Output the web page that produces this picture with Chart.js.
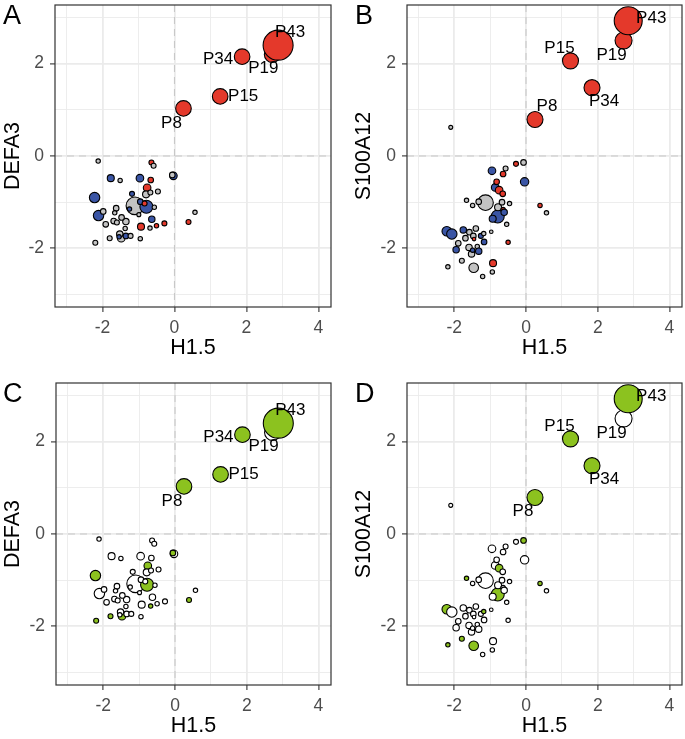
<!DOCTYPE html>
<html>
<head>
<meta charset="utf-8">
<script src="https://cdn.jsdelivr.net/npm/chart.js@4.4.0/dist/chart.umd.min.js"></script>
<style>
  body { margin: 0; background: #fff; }
  #wrap { position: relative; width: 685px; height: 739px; }
  canvas { position: absolute; }
</style>
</head>
<body>
<div id="wrap">
  <canvas id="panelA" width="340" height="361" style="left:0;top:0"></canvas>
  <canvas id="panelB" width="345" height="361" style="left:340px;top:0"></canvas>
  <canvas id="panelC" width="340" height="361" style="left:0;top:378px"></canvas>
  <canvas id="panelD" width="345" height="361" style="left:340px;top:378px"></canvas>
</div>
<script>
/** Data **/

// axis ticks and ranges (same for all four panels)
const xTicks = [-3, -2, -1, 0, 1, 2, 3, 4];
const yTicks = [-3, -2, -1, 0, 1, 2, 3];
const xRange = [-3.32, 4.35];
const yRange = [-3.27, 3.27];

// panels A and C : H1.5 vs DEFA3
const h15A = [-1.10, -0.78, -2.22, -2.11, -0.96, -0.03, -0.06, -0.76, -1.77, -0.79,
              -1.48, -1.52, -0.93, -1.35, -0.63, -0.64, -0.58, -1.51, -0.66, -1.18,
              -0.67, -0.46, -0.95, -0.83, -0.56, -1.25, -0.99, -1.98, -1.62, -1.66,
              -1.47, -1.69, -1.60, -1.91, -1.37, -0.68, -0.50, -0.28, 0.57, 0.39,
              -1.54, -1.35, -1.22, -1.80, -0.95, -2.20, -2.12, 0.25, 1.27, 1.88,
              2.72, 2.88];
const defa3 = [-1.08, -1.10, -0.90, -1.29, -0.48, -0.43, -0.41, -0.69, -0.48, -0.83,
               -1.78, -1.69, -1.53, -1.42, -1.37, -0.14, -0.21, -0.53, -0.52, -0.82,
               -0.79, -0.77, -0.99, -1.03, -1.11, -1.15, -1.27, -1.20, -1.13, -1.23,
               -1.33, -1.41, -1.44, -1.48, -1.57, -1.56, -1.51, -1.46, -1.22, -1.43,
               -1.75, -1.73, -1.73, -1.78, -1.79, -1.88, -0.11, 1.03, 1.29, 2.15,
               2.20, 2.40];
const sizeA = [8.3, 6.0, 4.7, 4.7, 3.3, 3.3, 2.3, 3.3, 3.0, 3.0,
               3.3, 2.7, 3.0, 2.7, 2.7, 2.0, 2.0, 1.7, 2.3, 2.0,
               2.0, 2.0, 2.3, 2.0, 1.7, 1.7, 1.5, 2.3, 2.3, 1.7,
               2.3, 2.3, 2.0, 2.3, 1.7, 1.7, 1.7, 2.0, 1.7, 2.0,
               1.7, 2.3, 2.0, 2.0, 1.7, 2.0, 1.7, 7.3, 7.3, 7.3,
               7.5, 14.5];
const groupA = ['none', 'down', 'down', 'down', 'down', 'down', 'none', 'up', 'down', 'none',
                'none', 'none', 'up', 'none', 'down', 'up', 'none', 'none', 'up', 'down',
                'none', 'none', 'down', 'up', 'none', 'down', 'none', 'none', 'none', 'none',
                'none', 'none', 'none', 'none', 'none', 'none', 'up', 'up', 'none', 'up',
                'down', 'down', 'none', 'none', 'none', 'none', 'none', 'up', 'up', 'up',
                'up', 'up'];
const groupC = ['lo', 'hi', 'hi', 'lo', 'lo', 'lo', 'hi', 'hi', 'lo', 'lo',
                'hi', 'lo', 'lo', 'lo', 'lo', 'lo', 'lo', 'lo', 'lo', 'lo',
                'lo', 'lo', 'lo', 'lo', 'lo', 'lo', 'lo', 'lo', 'lo', 'lo',
                'lo', 'lo', 'lo', 'lo', 'lo', 'hi', 'lo', 'lo', 'lo', 'hi',
                'lo', 'lo', 'lo', 'hi', 'lo', 'hi', 'lo', 'hi', 'hi', 'hi',
                'lo', 'hi'];
const namesA = {47: 'P8', 48: 'P15', 49: 'P34', 50: 'P19', 51: 'P43'};

// panels B and D : H1.5 vs S100A12
const h15B = [-1.13, -0.79, -2.21, -2.07, -1.46, -0.04, -0.95, -0.86, -0.75, -0.92,
              -0.78, -0.93, -0.28, -0.07, -0.57, -0.64, -0.82, -0.65, -1.66, -1.49,
              -1.32, -0.67, -0.46, -0.64, -0.61, -0.54, -1.75, -1.58, -1.40, -1.69,
              -1.47, -1.45, -1.26, -1.18, -1.17, -0.97, -1.89, -1.95, -1.59, -1.52,
              -1.36, -1.32, -1.49, -0.50, -2.18, -1.79, -0.94, -1.21, 0.39, 0.57,
              -2.10, 0.25, 1.84, 1.24, 2.72, 2.85];
const s100a12 = [-1.01, -1.31, -1.63, -1.69, -2.42, -0.56, -0.32, -0.68, -0.74, -2.32,
                 -1.11, -1.36, -0.17, -0.14, -0.27, -0.39, -0.56, -0.82, -0.96, -1.07,
                 -0.99, -1.00, -1.03, -1.16, -1.22, -1.48, -1.60, -1.65, -1.57, -1.78,
                 -1.73, -1.80, -1.73, -1.68, -1.86, -1.64, -1.89, -2.03, -1.98, -2.12,
                 -1.96, -2.06, -2.04, -1.87, -2.40, -2.27, -2.51, -2.61, -1.07, -1.23,
                 0.62, 0.79, 1.48, 2.06, 2.50, 2.93];
const sizeB = [7.3, 6.0, 4.3, 4.7, 4.3, 3.7, 3.3, 3.3, 3.3, 3.0,
               3.0, 3.0, 2.0, 2.3, 2.0, 2.3, 2.3, 2.3, 1.7, 1.7,
               2.3, 2.3, 1.7, 1.7, 2.7, 1.7, 2.7, 2.3, 2.3, 2.3,
               2.3, 1.3, 2.0, 1.7, 2.3, 1.3, 2.3, 2.7, 2.7, 2.7,
               1.7, 2.7, 1.7, 1.7, 1.7, 2.0, 1.7, 1.7, 1.7, 1.7,
               1.5, 7.5, 7.5, 7.5, 8.0, 13.5];
const groupB = ['none', 'down', 'down', 'down', 'none', 'down', 'down', 'down', 'up', 'up',
                'none', 'down', 'up', 'none', 'none', 'up', 'up', 'up', 'none', 'none',
                'none', 'none', 'none', 'up', 'down', 'none', 'down', 'none', 'none', 'none',
                'none', 'up', 'down', 'none', 'down', 'none', 'none', 'down', 'none', 'none',
                'none', 'down', 'down', 'up', 'none', 'none', 'none', 'none', 'up', 'none',
                'none', 'up', 'up', 'up', 'up', 'up'];
const groupD = ['lo', 'hi', 'hi', 'lo', 'hi', 'lo', 'lo', 'lo', 'hi', 'lo',
                'lo', 'lo', 'lo', 'hi', 'lo', 'lo', 'lo', 'lo', 'hi', 'lo',
                'lo', 'lo', 'lo', 'lo', 'lo', 'lo', 'lo', 'lo', 'lo', 'lo',
                'lo', 'lo', 'lo', 'hi', 'lo', 'lo', 'lo', 'lo', 'lo', 'lo',
                'lo', 'lo', 'lo', 'lo', 'hi', 'hi', 'lo', 'lo', 'hi', 'lo',
                'lo', 'hi', 'hi', 'hi', 'lo', 'hi'];
const namesB = {51: 'P8', 52: 'P34', 53: 'P15', 54: 'P19', 55: 'P43'};

/** Styles **/
const fills = {up: '#E4392B', down: '#3A55A5', none: '#C3C3C3', hi: '#8CC21F', lo: '#FFFFFF'};
const offA = {P43: [12, -13], P19: [-9, 14], P34: [-24, 3], P15: [23, 0], P8: [-12, 15]};
const offB = {P43: [23, -2], P19: [-12, 15], P15: [-11, -13], P34: [12, 14], P8: [12, -13]};
const offD = {P43: [23, -2], P19: [-12, 15], P15: [-11, -13], P34: [12, 14], P8: [-12, 14]};
const FONT = '"Liberation Sans", Arial, sans-serif';

Chart.defaults.font.family = FONT;

/* draws one panel of the figure */
function panel(id, xs, ys, sizes, groups, names, offs, yTitle, letter, box) {
  const cv = document.getElementById(id);
  const W = cv.width, H = cv.height;

  const deco = {
    id: 'deco',
    beforeDatasetsDraw(chart) {
      const c = chart.ctx, a = chart.chartArea;
      const x0 = chart.scales.x.getPixelForValue(0);
      const y0 = chart.scales.y.getPixelForValue(0);
      c.save();
      c.strokeStyle = '#C8C8C8';
      c.lineWidth = 1.1;
      c.setLineDash([7, 5]);
      c.beginPath();
      c.moveTo(x0, a.top); c.lineTo(x0, a.bottom);
      c.moveTo(a.left, y0); c.lineTo(a.right, y0);
      c.stroke();
      c.restore();
    },
    afterDatasetsDraw(chart) {
      const c = chart.ctx, a = chart.chartArea;
      const pts = chart.getDatasetMeta(0).data;
      c.save();
      c.fillStyle = '#000';
      c.font = '17px ' + FONT;
      c.textAlign = 'center';
      c.textBaseline = 'middle';
      Object.keys(names).forEach(function (k) {
        const p = pts[k], o = offs[names[k]];
        c.fillText(names[k], p.x + o[0], p.y + o[1]);
      });
      // panel border
      c.strokeStyle = '#333';
      c.lineWidth = 1.2;
      c.strokeRect(a.left, a.top, a.right - a.left, a.bottom - a.top);
      // panel letter
      c.font = '27px ' + FONT;
      c.textAlign = 'left';
      c.textBaseline = 'alphabetic';
      c.fillText(letter, box.letterX, 24);
      c.restore();
    }
  };

  const gridStyle = {
    color: '#EBEBEB',
    lineWidth: ctx => (ctx.tick && ctx.tick.value % 2 === 0 ? 1.8 : 0.9),
    tickColor: ctx => (ctx.tick && ctx.tick.value % 2 === 0 ? '#333' : 'rgba(0,0,0,0)'),
    tickWidth: 1.1,
    tickLength: 5,
    drawTicks: true
  };
  const tickStyle = pad => ({
    color: '#4D4D4D',
    font: {size: 17.5},
    padding: pad,
    autoSkip: false,
    maxRotation: 0,
    callback: v => (v % 2 === 0 ? String(v) : '')
  });

  return new Chart(cv, {
    type: 'bubble',
    data: {
      datasets: [{
        data: xs.map((x, i) => ({x: x, y: ys[i], r: sizes[i] + 0.5})),
        backgroundColor: groups.map(g => fills[g]),
        borderColor: '#000',
        borderWidth: 1.1,
        hoverRadius: 0
      }]
    },
    options: {
      responsive: false,
      animation: false,
      events: [],
      layout: {autoPadding: false, padding: {left: 0, top: box.top, right: W - box.right, bottom: 0}},
      plugins: {legend: {display: false}, tooltip: {enabled: false}},
      scales: {
        x: {
          type: 'linear', min: xRange[0], max: xRange[1],
          afterBuildTicks: s => { s.ticks = xTicks.map(v => ({value: v})); },
          afterFit: s => { s.height = H - box.bottom; s.paddingLeft = 0; s.paddingRight = 0; },
          grid: gridStyle,
          border: {display: false},
          ticks: tickStyle(6),
          title: {display: true, text: 'H1.5', color: '#000', font: {size: 21.5}, padding: {top: 0, bottom: 0}}
        },
        y: {
          type: 'linear', min: yRange[0], max: yRange[1],
          afterBuildTicks: s => { s.ticks = yTicks.map(v => ({value: v})); },
          afterFit: s => { s.width = box.left; s.paddingTop = 0; s.paddingBottom = 0; },
          grid: gridStyle,
          border: {display: false},
          ticks: tickStyle(6),
          title: {display: true, text: yTitle, color: '#000', font: {size: 21.5}, padding: {top: box.titlePad, bottom: 0}}
        }
      }
    },
    plugins: [deco]
  });
}

panel('panelA', h15A, defa3, sizeA, groupA, namesA, offA, 'DEFA3', 'A',
      {left: 55, right: 331, top: 5, bottom: 307, letterX: 3, titlePad: 0});
panel('panelB', h15B, s100a12, sizeB, groupB, namesB, offB, 'S100A12', 'B',
      {left: 67, right: 342, top: 5, bottom: 307, letterX: 15, titlePad: 11});
panel('panelC', h15A, defa3, sizeA, groupC, namesA, offA, 'DEFA3', 'C',
      {left: 56, right: 331, top: 5, bottom: 307, letterX: 3, titlePad: 0});
panel('panelD', h15B, s100a12, sizeB, groupD, namesB, offD, 'S100A12', 'D',
      {left: 67, right: 342, top: 5, bottom: 307, letterX: 15, titlePad: 11});
</script>
</body>
</html>
